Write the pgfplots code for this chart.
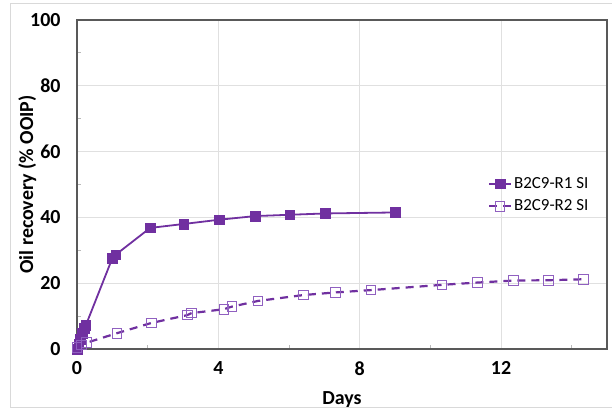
\documentclass[border=0pt]{standalone}
\usepackage{pgfplots}
\pgfplotsset{compat=1.18}
\usepackage{fontspec}
\setmainfont{Carlito}
\definecolor{ser}{HTML}{7030A0}
\definecolor{serl}{HTML}{9060C0}
\definecolor{axgray}{HTML}{595959}
\definecolor{gridgray}{HTML}{E0E0E0}
\definecolor{bordergray}{HTML}{D9D9D9}
\begin{document}
\begin{tikzpicture}
\begin{axis}[
  scale only axis,
  width=530bp, height=329bp,
  xmin=0, xmax=15, ymin=0, ymax=100,
  xtick={0,4,8,12}, ytick={0,20,40,60,80,100},
  minor xtick={2,6,10,14}, minor ytick={10,30,50,70,90},
  tick pos=left,
  major tick length=0pt, minor tick length=4bp,
  tick align=inside,
  minor tick style={gridgray!60!gray, line width=0.8bp},
  xmajorgrids, ymajorgrids,
  major grid style={gridgray, line width=0.9bp},
  axis line style={axgray, line width=1.5bp},
  /pgf/number format/assume math mode=true,
  ticklabel style={font=\fontsize{20}{24}\selectfont\bfseries},
  yticklabel style={xshift=-13bp},
  xticklabel style={yshift=-9bp},
  xlabel={Days}, ylabel={Oil recovery (\% OOIP)},
  label style={font=\fontsize{20}{24}\selectfont\bfseries},
  xlabel style={at={(axis description cs:0.5,-0.155)}, anchor=center},
  ylabel style={at={(axis description cs:-0.094,0.5)}, anchor=center, rotate=0},
  legend style={draw=none, fill=none, at={(axis description cs:0.775,0.528)}, anchor=north west,
    font=\fontsize{17}{20}\selectfont, row sep=6bp, inner sep=0pt,
    /tikz/every even column/.append style={column sep=2bp}},
  legend cell align=left,
  legend image code/.code={\draw[mark repeat=2,mark phase=2,#1] plot coordinates {(0bp,0bp) (11bp,0bp) (22bp,0bp)};},
]
\addplot[ser, line width=1.8bp, mark=square*, mark size=4.8bp, mark options={solid, fill=ser, draw=ser, line width=0.5bp}]
coordinates {
(0,0) (0.05,1.5) (0.1,3) (0.15,4.8) (0.2,6.3) (0.25,7.2)
(1.0,27.6) (1.1,28.7) (2.07,36.8) (3.02,38.0) (4.03,39.3) (5.04,40.4)
(6.02,40.8) (7.03,41.2) (9.0,41.5)
};
\addlegendentry{B2C9-R1 SI}
\addplot[ser, line width=2.2bp, dash pattern=on 8bp off 6bp, mark=square, mark size=4.8bp, mark options={solid, draw=serl, fill=none, line width=0.9bp}]
coordinates {
(0,0.4) (0.12,1.2) (0.27,1.9) (1.13,4.8) (2.1,7.9) (3.12,10.3) (3.24,10.9)
(4.16,12.1) (4.39,12.9) (5.12,14.6) (6.41,16.4) (7.32,17.2) (8.32,17.9)
(10.33,19.5) (11.34,20.2) (12.35,20.8) (13.34,20.9) (14.34,21.2)
};
\addlegendentry{B2C9-R2 SI}
\end{axis}
\pgfresetboundingbox
\path[use as bounding box] ([xshift=-77bp,yshift=-60bp]current axis.south west) rectangle ([xshift=5bp,yshift=20bp]current axis.north east);
\draw[bordergray, line width=1bp] ([xshift=-66bp,yshift=-58bp]current axis.south west) rectangle ([xshift=12bp,yshift=16bp]current axis.north east);
\end{tikzpicture}
\end{document}
